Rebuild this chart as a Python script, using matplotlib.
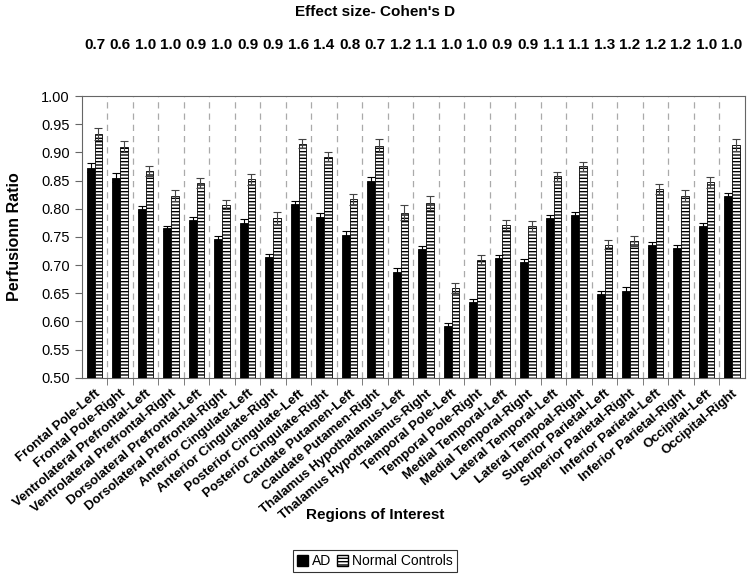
import numpy as np
import matplotlib
matplotlib.use('Agg')
from matplotlib import pyplot as plt
from matplotlib.patches import Patch

plt.rcParams['font.family'] = ['Liberation Sans', 'DejaVu Sans']
plt.rcParams['hatch.linewidth'] = 1.0

regions = [
    'Frontal Pole-Left', 'Frontal Pole-Right',
    'Ventrolateral Prefrontal-Left', 'Ventrolateral Prefrontal-Right',
    'Dorsolateral Prefrontal-Left', 'Dorsolateral Prefrontal-Right',
    'Anterior Cingulate-Left', 'Anterior Cingulate-Right',
    'Posterior Cingulate-Left', 'Posterior Cingulate-Right',
    'Caudate Putamen-Left', 'Caudate Putamen-Right',
    'Thalamus Hypothalamus-Left', 'Thalamus Hypothalamus-Right',
    'Temporal Pole-Left', 'Temporal Pole-Right',
    'Medial Temporal-Left', 'Medial Temporal-Right',
    'Lateral Temporal-Left', 'Lateral Tempoal-Right',
    'Superior Parietal-Left', 'Superior Parietal-Right',
    'Inferior Parietal-Left', 'Inferior Parietal-Right',
    'Occipital-Left', 'Occipital-Right',
]

ad = [0.873, 0.855, 0.800, 0.765, 0.780, 0.747, 0.775, 0.714, 0.808, 0.786,
      0.753, 0.850, 0.687, 0.728, 0.591, 0.634, 0.712, 0.705, 0.783, 0.789,
      0.648, 0.654, 0.736, 0.730, 0.770, 0.822]
ad_err = [0.008, 0.008, 0.005, 0.005, 0.005, 0.005, 0.007, 0.006, 0.005, 0.006,
          0.007, 0.007, 0.007, 0.005, 0.006, 0.006, 0.005, 0.006, 0.005, 0.006,
          0.006, 0.007, 0.005, 0.005, 0.005, 0.006]

nc = [0.933, 0.910, 0.867, 0.823, 0.845, 0.807, 0.852, 0.783, 0.915, 0.892,
      0.817, 0.912, 0.793, 0.810, 0.659, 0.709, 0.771, 0.770, 0.858, 0.875,
      0.736, 0.743, 0.835, 0.823, 0.847, 0.913]
nc_err = [0.011, 0.010, 0.009, 0.010, 0.009, 0.008, 0.010, 0.012, 0.008, 0.008,
          0.010, 0.011, 0.013, 0.012, 0.009, 0.009, 0.009, 0.009, 0.008, 0.008,
          0.008, 0.009, 0.009, 0.010, 0.010, 0.011]

cohens_d = ['0.7', '0.6', '1.0', '1.0', '0.9', '1.0', '0.9', '0.9', '1.6', '1.4',
            '0.8', '0.7', '1.2', '1.1', '1.0', '1.0', '0.9', '0.9', '1.1', '1.1',
            '1.3', '1.2', '1.2', '1.2', '1.0', '1.0']

x = np.arange(len(regions))
w = 0.3

fig = plt.figure(figsize=(7.5, 5.75), dpi=100)
ax = fig.add_axes([0.109, 0.343, 0.884, 0.490])

ax.bar(x - w / 2, ad, w, color='black', edgecolor='black', linewidth=0.6,
       yerr=ad_err, capsize=3, error_kw=dict(ecolor='black', elinewidth=0.8, capthick=0.8),
       zorder=3)
ax.bar(x + w / 2, nc, w, color='white', edgecolor='black', linewidth=0.6, hatch='-----',
       yerr=nc_err, capsize=3, error_kw=dict(ecolor='#444444', elinewidth=0.8, capthick=0.8),
       zorder=3)

ax.set_xlim(-0.5, len(regions) - 0.5)
ax.set_ylim(0.5, 1.0)
ax.set_yticks(np.arange(0.5, 1.001, 0.05))
ax.set_yticklabels([f'{v:.2f}' for v in np.arange(0.5, 1.001, 0.05)], fontsize=10.5)

ax.set_xticks(x)
ax.set_xticklabels(regions, rotation=40, ha='right', rotation_mode='anchor',
                   fontsize=9.5, fontweight='bold')
ax.tick_params(axis='x', length=0, pad=7)
ax.set_xticks(np.arange(0.5, len(regions) - 1, 1), minor=True)
ax.tick_params(axis='x', which='minor', length=5, direction='out', color='#666666')
ax.tick_params(axis='y', length=5, direction='out', color='#666666')
ax.grid(axis='x', which='minor', linestyle=(0, (5, 4)), color='#aaaaaa', linewidth=0.9)

for side in ['top', 'right', 'left', 'bottom']:
    ax.spines[side].set_color('#666666')

for xi, d in zip(x, cohens_d):
    ax.text(xi, 1.182, d, transform=ax.get_xaxis_transform(), ha='center', va='center',
            fontsize=11, fontweight='bold')

fig.text(0.5, 0.979, "Effect size- Cohen's D", ha='center', va='center',
         fontsize=11, fontweight='bold')
ax.set_ylabel('Perfusionn Ratio', fontsize=11.5, fontweight='bold', labelpad=14)
fig.text(0.5, 0.104, 'Regions of Interest', ha='center', va='center',
         fontsize=11, fontweight='bold')

handles = [Patch(facecolor='black', edgecolor='black', label='AD'),
           Patch(facecolor='white', edgecolor='black', hatch='-----', label='Normal Controls')]
leg = fig.legend(handles=handles, loc='center', bbox_to_anchor=(0.5, 0.024), ncol=2,
                 frameon=True, fancybox=False, edgecolor='black', fontsize=10,
                 handlelength=0.8, handleheight=0.8, handletextpad=0.3, columnspacing=0.4,
                 borderpad=0.3)
leg.get_frame().set_linewidth(0.8)

fig.savefig('out.png', dpi=100)
